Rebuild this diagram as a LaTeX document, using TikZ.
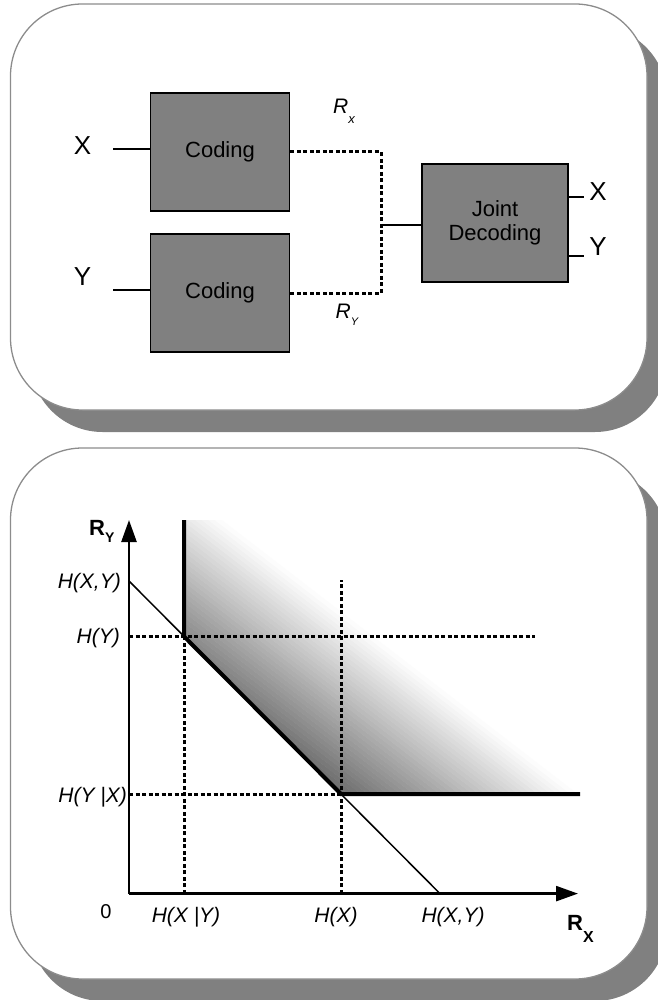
\documentclass[tikz,border=0pt]{standalone}
\usepackage{fontspec}
\setmainfont{Liberation Sans}
\usetikzlibrary{arrows.meta}
\definecolor{boxgray}{RGB}{128,128,128}
\definecolor{rimgray}{RGB}{140,140,140}
\begin{document}
\begin{tikzpicture}[x=1pt,y=-1pt,
  shadowbox/.style={fill=boxgray, rounded corners=72pt},
  panel/.style={draw=rimgray, line width=1.3pt, fill=white, rounded corners=72pt},
  block/.style={draw=black, line width=1.8pt, fill=boxgray, inner sep=0pt,
    minimum width=139pt, minimum height=118pt, align=center,
    font=\fontsize{22}{24}\selectfont},
  biglbl/.style={inner sep=0pt, font=\fontsize{26}{28}\selectfont},
  hlbl/.style={inner sep=0pt, font=\fontsize{21}{22}\selectfont\itshape},
  wire/.style={line width=1.5pt},
  dotw/.style={line width=3pt, dash pattern=on 4pt off 2.5pt},
  axisline/.style={line width=2.5pt, -{Triangle[length=22pt,width=15pt]}},
  thickline/.style={line width=4pt, line join=miter},
  thinline/.style={line width=1.5pt}
]
\useasboundingbox (0,0) rectangle (657,1000);

% ---------- top panel ----------
\path[shadowbox] (30.5,26) rectangle (667,432);
\path[panel] (10.5,4) rectangle (647,410);

\node[block] (cx) at (220,152) {Coding};
\node[block] (cy) at (220,293) {Coding};
\node[block, minimum width=146pt] (jd) at (495,223) {Joint\\Decoding};

\node[biglbl] (xin) at (82.5,146) {X};
\node[biglbl] (yin) at (82.5,277) {Y};
\coordinate (xw) at (113,149);
\coordinate (yw) at (113,290);
\draw[wire] (xw) -- (xw -| cx.west);
\draw[wire] (yw) -- (yw -| cy.west);

\coordinate (jn) at (381,225);
\draw[dotw] (cx.east) -| (jn) |- (cy.east);
\draw[wire] (jn) -- (jn -| jd.west);

\node[inner sep=0pt, anchor=base west] (rx) at (333,113.3)
  {\fontsize{21}{22}\selectfont\itshape R\raisebox{-9.8pt}{\fontsize{13}{13}\selectfont x}};
\node[inner sep=0pt, anchor=base west] (ry) at (335.5,318.3)
  {\fontsize{21}{22}\selectfont\itshape R\raisebox{-7.6pt}{\fontsize{11}{11}\selectfont Y}};

\coordinate (xo) at (584,197);
\coordinate (yo) at (584,256);
\draw[wire] (xo -| jd.east) -- (xo);
\draw[wire] (yo -| jd.east) -- (yo);
\node[biglbl] (xout) at (598,191.5) {X};
\node[biglbl] (yout) at (598,246.5) {Y};

% ---------- bottom panel ----------
\path[shadowbox] (30.5,470) rectangle (667,1001);
\path[panel] (10.5,448) rectangle (647,979);

\coordinate (O) at (129,893.6);
\coordinate (hxy) at (129,581);
\coordinate (hy) at (129,636.4);
\coordinate (hyx) at (129,794);
\coordinate (hxgy) at (184,893.6);
\coordinate (hx) at (341,893.6);
\coordinate (hxy2) at (440,893.6);
\coordinate (A) at (184,636.4);
\coordinate (B) at (341,794);
\coordinate (vtop) at (184,520);
\coordinate (hend) at (580,794);

% gradient region
\begin{scope}
  \clip (vtop) -- (A) -- (B) -- (581,794) -- (581,520) -- cycle;
  \foreach \k in {0,...,35} {
    \pgfmathsetmacro{\ta}{ifthenelse(\k==0,-30,4*\k)}
    \pgfmathsetmacro{\tb}{4*\k+4.4}
    \pgfmathsetmacro{\gv}{max(0,58*(1-(\k+0.5)/36.25))}
    \fill[black!\gv]
      ({341+0.61*\ta-0.792*600},{794-0.792*\ta-0.61*600}) --
      ({341+0.61*\ta+0.792*600},{794-0.792*\ta+0.61*600}) --
      ({341+0.61*\tb+0.792*600},{794-0.792*\tb+0.61*600}) --
      ({341+0.61*\tb-0.792*600},{794-0.792*\tb-0.61*600}) -- cycle;
  }
\end{scope}

% dotted guides
\coordinate (hyend) at (535,636.4);
\coordinate (hxtop) at (341,580);
\draw[dotw] (hy) -- (hyend);
\draw[dotw] (hyx) -- (B);
\draw[dotw] (hxgy) -- (A);
\draw[dotw] (hx) -- (hxtop);

% lines
\draw[thinline] (hxy) -- (hxy2);
\draw[thickline] (vtop) -- (A) -- (B) -- (hend);

% axes
\coordinate (xtip) at (578,893.6);
\coordinate (ytip) at (129,520);
\draw[axisline] (O) -- (xtip);
\draw[axisline] (O) -- (ytip);

% labels
\node[hlbl, anchor=east] (lhxy) at (121,583) {H(X,Y)};
\node[hlbl, anchor=east] (lhy) at (120,638) {H(Y)};
\node[hlbl, anchor=east] (lhyx) at (127,797) {H(Y |X)};
\node[inner sep=0pt, font=\fontsize{20}{20}\selectfont] (zero) at (106,912) {0};
\node[hlbl] (lhxgy) at (186,917.5) {H(X |Y)};
\node[hlbl] (lhx) at (336,917.5) {H(X)};
\node[hlbl] (lhxy2) at (453,917.5) {H(X,Y)};

\node[inner sep=0pt, anchor=base west] (ry2) at (89,535)
  {\fontsize{22}{22}\selectfont\bfseries R\raisebox{-7.6pt}{\fontsize{14}{14}\selectfont Y}};
\node[inner sep=0pt, anchor=base west] (rx2) at (567,930)
  {\fontsize{22}{22}\selectfont\bfseries R\raisebox{-12.8pt}{\fontsize{16}{16}\selectfont X}};
\end{tikzpicture}
\end{document}
